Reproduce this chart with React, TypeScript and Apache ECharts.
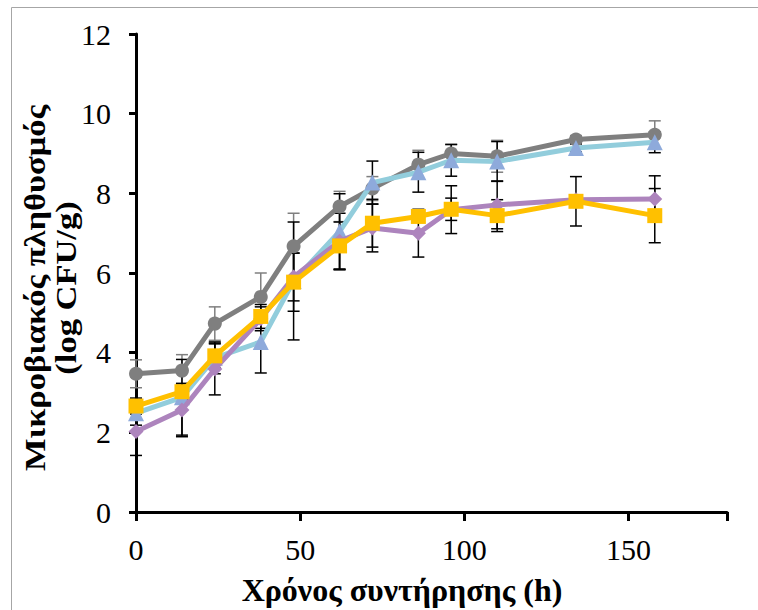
import React, { useEffect, useRef } from "react";
import * as echarts from "echarts";

const times = [0, 14, 24, 38, 48, 62, 72, 86, 96, 110, 134, 158];
const grayVals = [3.47, 3.55, 4.73, 5.4, 6.67, 7.67, 8.12, 8.72, 9.0, 8.93, 9.35, 9.47];
const grayErr = [0.35, 0.4, 0.42, 0.6, 0.83, 0.38, 0.3, 0.36, 0.22, 0.4, 0.1, 0.35];
const blueVals = [2.48, 2.88, 3.87, 4.27, 5.8, 7.04, 8.27, 8.53, 8.83, 8.8, 9.14, 9.28];
const blueErr = [0.3, 0.95, 0.4, 0.78, 1.48, 0.95, 0.54, 0.5, 0.4, 0.5, 0.1, 0.26];
const purpleVals = [2.02, 2.56, 3.59, 4.85, 5.9, 6.8, 7.13, 7.0, 7.59, 7.71, 7.84, 7.86];
const purpleErr = [0.6, 0.67, 0.65, 0.3, 0.6, 0.7, 0.6, 0.6, 0.6, 0.6, 0.1, 0.58];
const orangeVals = [2.66, 3.02, 3.92, 4.91, 5.77, 6.68, 7.25, 7.42, 7.6, 7.44, 7.8, 7.44];
const orangeErr = [0.2, 0.2, 0.3, 0.3, 0.73, 0.6, 0.6, 0.1, 0.28, 0.4, 0.62, 0.68];

const xTitle = "Χρόνος συντήρησης (h)";
const yTitle = "Μικροβιακός πληθυσμός\n(log CFU/g)";

const FONT = "'Liberation Serif', 'DejaVu Serif', serif";

function errData(vals: number[], errs: number[]) {
  return times.map((t, i) => [t, vals[i] - errs[i], vals[i] + errs[i]]);
}

function errSeries(vals: number[], errs: number[], color: string, z: number) {
  return {
    type: "custom",
    z,
    silent: true,
    data: errData(vals, errs),
    renderItem: (params: any, api: any) => {
      const x = api.value(0);
      const lo = api.coord([x, api.value(1)]);
      const hi = api.coord([x, api.value(2)]);
      const w = 6;
      const style = { stroke: color, lineWidth: 1.5 };
      return {
        type: "group",
        children: [
          { type: "line", shape: { x1: lo[0], y1: lo[1], x2: hi[0], y2: hi[1] }, style },
          { type: "line", shape: { x1: lo[0] - w, y1: lo[1], x2: lo[0] + w, y2: lo[1] }, style },
          { type: "line", shape: { x1: hi[0] - w, y1: hi[1], x2: hi[0] + w, y2: hi[1] }, style },
        ],
      };
    },
  };
}

function lineSeries(vals: number[], lineColor: string, markColor: string, symbol: string, size: number, z: number) {
  return {
    type: "line",
    z,
    data: times.map((t, i) => [t, vals[i]]),
    symbol,
    symbolSize: size,
    showAllSymbol: true,
    lineStyle: { color: lineColor, width: 5 },
    itemStyle: { color: markColor, borderWidth: 0 },
    emphasis: { disabled: true },
  };
}

export default function App() {
  const ref = useRef<HTMLDivElement>(null);
  useEffect(() => {
    if (!ref.current) return;
    const chart = echarts.init(ref.current, undefined, { renderer: "svg" });
    chart.setOption({
      animation: false,
      backgroundColor: "#ffffff",
      grid: { left: 136, top: 34, right: 31, bottom: 98, containLabel: false },
      xAxis: {
        type: "value",
        min: 0,
        max: 180,
        interval: 50,
        axisLine: { show: true, lineStyle: { color: "#000", width: 3 } },
        axisTick: { show: true, inside: false, length: 9, lineStyle: { color: "#000", width: 3 } },
        axisLabel: {
          color: "#000",
          fontFamily: FONT,
          fontSize: 30,
          margin: 22,
          formatter: (v: number) => (v % 50 === 0 ? String(v) : ""),
        },
        splitLine: { show: false },
      },
      yAxis: {
        type: "value",
        min: 0,
        max: 12,
        interval: 2,
        axisLine: { show: true, lineStyle: { color: "#000", width: 3 } },
        axisTick: { show: true, inside: false, length: 7, lineStyle: { color: "#000", width: 3 } },
        axisLabel: { color: "#000", fontFamily: FONT, fontSize: 30, margin: 25 },
        splitLine: { show: false },
      },
      graphic: [
        {
          type: "rect",
          shape: { x: 11.5, y: 7.5, width: 800, height: 700 },
          style: { fill: "none", stroke: "#a6a6a6", lineWidth: 1 },
          silent: true,
          z: -10,
        },
        {
          type: "text",
          x: 402,
          y: 590,
          style: {
            text: xTitle,
            fontFamily: FONT,
            fontSize: 32,
            fontWeight: "bold",
            fill: "#000",
            align: "center",
            verticalAlign: "middle",
          },
        },
        {
          type: "text",
          x: 50,
          y: 288,
          rotation: Math.PI / 2,
          scaleX: 1.15,
          style: {
            text: yTitle,
            fontFamily: FONT,
            fontSize: 30,
            lineHeight: 31,
            fontWeight: "bold",
            fill: "#000",
            align: "center",
            verticalAlign: "middle",
          },
        },
      ],
      series: [
        errSeries(grayVals, grayErr, "#7f7f7f", 1),
        errSeries(blueVals, blueErr, "#000", 1),
        errSeries(purpleVals, purpleErr, "#000", 1),
        errSeries(orangeVals, orangeErr, "#000", 1),
        lineSeries(grayVals, "#7f7f7f", "#7f7f7f", "circle", 14, 2),
        lineSeries(blueVals, "#92cddc", "#8eaadb", "triangle", 16, 3),
        lineSeries(purpleVals, "#ad84bd", "#ad84bd", "diamond", 15, 4),
        lineSeries(orangeVals, "#ffc000", "#ffc000", "rect", 15, 5),
      ],
    });
    return () => chart.dispose();
  }, []);
  return (
    <div
      ref={ref}
      style={{ position: "fixed", left: 0, top: 0, width: 758, height: 610, background: "#fff" }}
    />
  );
}
